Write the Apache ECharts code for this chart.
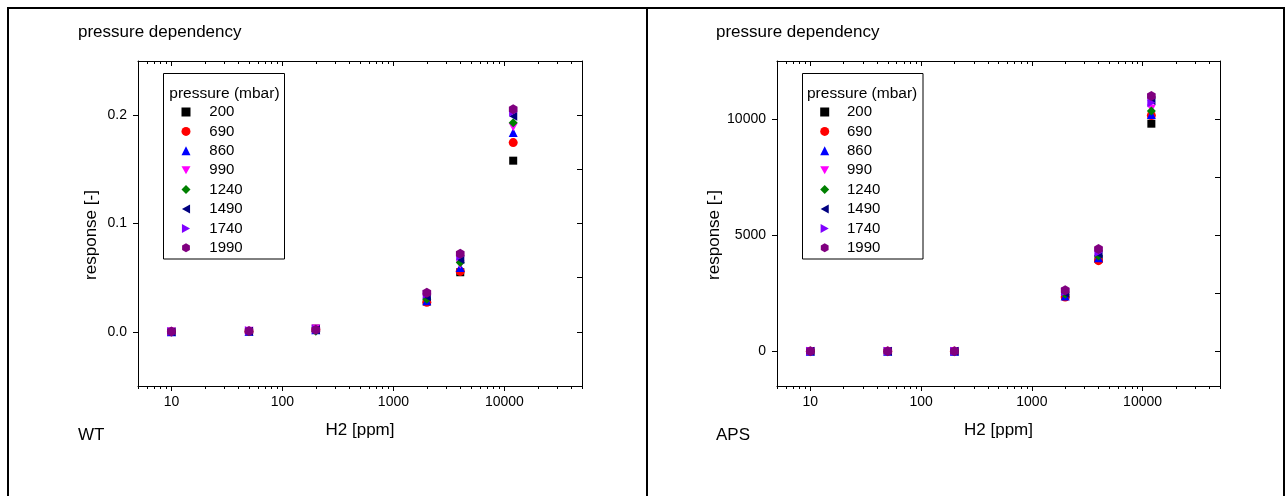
<!DOCTYPE html>
<html><head><meta charset="utf-8">
<script src="https://cdn.jsdelivr.net/npm/echarts@6/dist/echarts.min.js"></script>
<style>html,body{margin:0;padding:0;background:#fff}#c{width:1287px;height:496px}</style>
</head><body><div id="c"></div>
<script>
// ---- data ----
const H2 = [10, 50, 200, 2000, 4000, 12000];
const pressures = ['200', '690', '860', '990', '1240', '1490', '1740', '1990'];
const xMajorTicks = [10, 100, 1000, 10000];
const xMinorTicks = [5, 6, 7, 8, 9, 20, 30, 40, 50, 60, 70, 80, 90, 200, 300, 400, 500, 600, 700, 800, 900,
  2000, 3000, 4000, 5000, 6000, 7000, 8000, 9000, 20000, 30000, 40000, 50000];
const wtTickLabels = [0, 0.1, 0.2];
const wtRightTicks = [0, 0.05, 0.1, 0.15, 0.2];
const apsTickLabels = [0, 5000, 10000];
const apsRightTicks = [0, 2500, 5000, 7500, 10000];

// WT response per pressure (mbar)
const wt200  = [0, 0.0004, 0.003, 0.028, 0.055, 0.158];
const wt690  = [0, 0.0004, 0.002, 0.0273, 0.0558, 0.1747];
const wt860  = [0, 0.0005, 0.002, 0.0287, 0.0595, 0.184];
const wt990  = [0.0003, 0.001, 0.003, 0.032, 0.062, 0.189];
const wt1240 = [0, 0, 0.0006, 0.030, 0.064, 0.193];
const wt1490 = [0, 0.0005, 0.002, 0.0324, 0.0667, 0.199];
const wt1740 = [0.0003, 0.001, 0.0025, 0.0347, 0.0697, 0.203];
const wt1990 = [0.0002, 0.0008, 0.002, 0.036, 0.072, 0.2055];

// APS response per pressure (mbar)
const aps200  = [0, 0, 0, 2400, 3980, 9800];
const aps690  = [0, 0, 0, 2330, 3900, 10150];
const aps860  = [0, 0, 0, 2380, 4020, 10200];
const aps990  = [0, 0, 0, 2550, 4300, 10450];
const aps1240 = [0, 0, 0, 2450, 4100, 10350];
const aps1490 = [0, 0, 0, 2500, 4190, 10800];
const aps1740 = [0, 0, 0, 2560, 4250, 10700];
const aps1990 = [0, 0, 0, 2630, 4400, 10990];

const wtSets = [wt200, wt690, wt860, wt990, wt1240, wt1490, wt1740, wt1990];
const apsSets = [aps200, aps690, aps860, aps990, aps1240, aps1490, aps1740, aps1990];

// ---- styles ----
const FONT = '"Liberation Sans", Arial, sans-serif';
const colors = ['#000000', '#ff0000', '#0000ff', '#ff00ff', '#008000', '#000080', '#8000ff', '#800080'];
const HEX = 'path://M8.66,0L17.32,5L17.32,15L8.66,20L0,15L0,5Z';
const TRI_DOWN = 'path://M0,0L10,0L5,9Z';
const TRI_LEFT = 'path://M9,0L9,10L0,5Z';
const TRI_RIGHT = 'path://M0,0L9,5L0,10Z';
const symbols = ['rect', 'circle', 'triangle', TRI_DOWN, 'diamond', TRI_LEFT, TRI_RIGHT, HEX];
const sizes = [8, 9, 9, 9, 9, 9, 9, 10];

const PLOT_TOP = 61, PLOT_H = 325;
const panels = [
  { left: 138, width: 444, yMin: -0.05, yMax: 0.25, labels: wtTickLabels, rticks: wtRightTicks,
    fmt: v => v.toFixed(1), sets: wtSets },
  { left: 777, width: 443, yMin: -1500, yMax: 12500, labels: apsTickLabels, rticks: apsRightTicks,
    fmt: v => String(Math.round(v)), sets: apsSets }
];

const grid = [], xAxis = [], yAxis = [], series = [];
const black = { color: '#000', width: 1 };
panels.forEach((p, pi) => {
  const gMain = grid.length;
  grid.push({ left: p.left, top: PLOT_TOP, width: p.width, height: PLOT_H });
  const gMinor = grid.length;
  grid.push({ left: p.left, top: PLOT_TOP, width: p.width, height: PLOT_H });

  const xBase = (g, pos) => ({
    type: 'log', logBase: 10, gridIndex: g, position: pos, min: 5, max: 50000,
    splitLine: { show: false }, minorTick: { show: false }, minorSplitLine: { show: false }
  });
  const xMainIdx = xAxis.length;
  xAxis.push(Object.assign(xBase(gMain, 'bottom'), {
    axisLine: { show: true, onZero: false, lineStyle: black },
    axisTick: { show: true, inside: false, length: 5, customValues: xMajorTicks, lineStyle: black },
    axisLabel: { show: true, customValues: xMajorTicks, formatter: v => String(Math.round(v)),
      margin: 9, color: '#000', fontSize: 14, fontFamily: FONT },
    name: 'H2 [ppm]', nameLocation: 'middle', nameGap: 36,
    nameTextStyle: { color: '#000', fontSize: 17, fontFamily: FONT }
  }));
  xAxis.push(Object.assign(xBase(gMain, 'top'), {
    axisLine: { show: true, onZero: false, lineStyle: black },
    axisTick: { show: true, inside: true, length: 5, customValues: xMajorTicks, lineStyle: black },
    axisLabel: { show: false }
  }));
  xAxis.push(Object.assign(xBase(gMinor, 'bottom'), {
    axisLine: { show: false, onZero: false },
    axisTick: { show: true, inside: false, length: 3, customValues: xMinorTicks, lineStyle: black },
    axisLabel: { show: false }
  }));
  xAxis.push(Object.assign(xBase(gMinor, 'top'), {
    axisLine: { show: false, onZero: false },
    axisTick: { show: true, inside: true, length: 3, customValues: xMinorTicks, lineStyle: black },
    axisLabel: { show: false }
  }));

  const yMainIdx = yAxis.length;
  yAxis.push({
    type: 'value', gridIndex: gMain, position: 'left', min: p.yMin, max: p.yMax,
    axisLine: { show: true, onZero: false, lineStyle: black },
    axisTick: { show: true, inside: false, length: 5, customValues: p.labels, lineStyle: black },
    axisLabel: { show: true, customValues: p.labels, formatter: p.fmt, margin: 11,
      color: '#000', fontSize: 14, fontFamily: FONT },
    splitLine: { show: false },
    name: 'response [-]', nameLocation: 'middle', nameRotate: 90, nameGap: 38,
    nameTextStyle: { color: '#000', fontSize: 17, fontFamily: FONT, padding: [0, 23, 0, 0] }
  });
  yAxis.push({
    type: 'value', gridIndex: gMain, position: 'right', min: p.yMin, max: p.yMax,
    axisLine: { show: true, onZero: false, lineStyle: black },
    axisTick: { show: true, inside: true, length: 5, customValues: p.rticks, lineStyle: black },
    axisLabel: { show: false }, splitLine: { show: false }
  });
  yAxis.push({ type: 'value', gridIndex: gMinor, show: false, min: p.yMin, max: p.yMax,
    splitLine: { show: false } });

  pressures.forEach((name, si) => {
    series.push({
      type: 'scatter', name: name, xAxisIndex: xMainIdx, yAxisIndex: yMainIdx,
      symbol: symbols[si], symbolSize: sizes[si], symbolKeepAspect: true,
      itemStyle: { color: colors[si], opacity: 1 },
      emphasis: { disabled: true },
      data: H2.map((h, i) => [h, p.sets[si][i]])
    });
  });
});

const legendCommon = {
  data: pressures, orient: 'vertical', top: 102.3, padding: 0, itemGap: 0,
  itemWidth: 9, itemHeight: 9, symbolKeepAspect: true
};
const legend = [
  Object.assign({}, legendCommon, { left: 181.5,
    textStyle: { fontSize: 15, fontFamily: FONT, color: '#000', lineHeight: 19.4, padding: [0, 0, 0, 13.8] } }),
  Object.assign({}, legendCommon, { left: 820.2,
    textStyle: { fontSize: 15, fontFamily: FONT, color: '#000', lineHeight: 19.4, padding: [0, 0, 0, 12.8] } })
];

function label(text, x, y, size) {
  return { type: 'text', x: x, y: y, silent: true,
    style: { text: text, font: size + 'px ' + FONT, fill: '#000',
      textAlign: 'left', textVerticalAlign: 'middle', align: 'left', verticalAlign: 'middle' } };
}
const graphic = [
  { type: 'polyline', silent: true, shape: { points: [[8, 540], [8, 8], [1284, 8], [1284, 540]] },
    style: { stroke: '#000', lineWidth: 2, fill: null } },
  { type: 'line', silent: true, shape: { x1: 647, y1: 8, x2: 647, y2: 540 },
    style: { stroke: '#000', lineWidth: 2 } },
  { type: 'rect', silent: true, shape: { x: 163.5, y: 73.5, width: 121, height: 185.5 },
    style: { stroke: '#000', lineWidth: 1, fill: null } },
  { type: 'rect', silent: true, shape: { x: 802.5, y: 73.5, width: 120.5, height: 185.5 },
    style: { stroke: '#000', lineWidth: 1, fill: null } },
  label('pressure dependency', 78, 32.5, 17),
  label('pressure dependency', 716, 32.5, 17),
  label('WT', 78, 435.5, 17),
  label('APS', 716, 435.5, 17),
  label('pressure (mbar)', 169.3, 93.7, 15.5),
  label('pressure (mbar)', 807, 93.7, 15.5)
];

const chart = echarts.init(document.getElementById('c'), null, { renderer: 'canvas' });
chart.setOption({
  animation: false,
  backgroundColor: '#fff',
  grid: grid, xAxis: xAxis, yAxis: yAxis, series: series, legend: legend, graphic: graphic
});
</script>
</body></html>
